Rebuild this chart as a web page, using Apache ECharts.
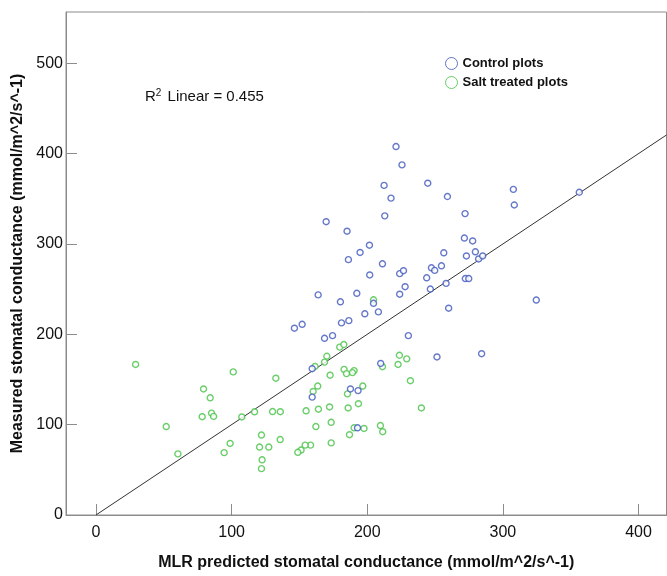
<!DOCTYPE html>
<html>
<head>
<meta charset="utf-8">
<script src="https://cdn.jsdelivr.net/npm/echarts@6/dist/echarts.min.js"></script>
<style>html,body{margin:0;padding:0;background:#fff}#c{width:667px;height:576px}</style>
</head>
<body>
<div id="c"></div>
<script>
// Control plots: [MLR predicted, measured]
var controlX = [221.2,225.6,212.4,244.6,217.5,259.1,212.9,272.1,169.7,185.1,271.6,277.7,201.6,194.7,256.4,279.7,186.1,273.1,282.1,285.1,211.2,201.8,223.9,226.7,247.3,249.7,254.7,243.8,272.3,274.8,307.7,308.4,356.3,163.8,192.3,180.2,204.6,227.9,223.9,246.5,258.1,260.0,198.2,208.2,146.3,152.0,181.0,186.4,168.5,174.4,230.3,251.4,284.3,209.9,159.4,187.6,193.2,159.4,324.6,192.8];
var controlY = [407.8,387.5,364.8,367.2,350.7,352.5,331.1,333.6,324.6,314.1,306.5,303.3,298.6,290.6,290.2,291.3,282.6,286.7,283.4,286.7,278.0,265.7,267.1,270.4,273.6,270.7,275.8,262.5,261.7,261.7,360.4,343.1,357.2,243.6,245.4,236.0,234.3,252.7,244.4,250.1,256.3,228.9,222.7,224.8,206.7,211.1,212.6,215.1,195.6,198.5,198.5,174.9,178.5,167.7,161.9,139.5,137.7,130.5,237.9,96.5];
// Salt treated plots
var saltX = [29.2,101.2,132.6,79.3,84.2,78.3,85.2,86.7,51.8,60.4,107.5,116.9,130.2,135.9,122.0,98.9,94.5,120.6,127.4,122.5,122.0,135.8,204.6,179.7,182.7,170.2,168.5,161.5,223.7,229.1,222.7,211.2,182.9,190.3,189.1,184.7,172.6,231.8,163.5,196.7,160.1,185.4,193.5,154.9,164.0,172.2,185.9,239.9,162.1,173.4,190.3,197.6,209.7,211.4,186.9,173.4,158.2,154.2,151.2,148.8];
var saltY = [166.6,158.4,151.4,139.5,129.7,108.8,112.8,109.1,97.9,67.6,108.5,114.2,114.5,114.3,88.5,79.2,69.0,75.2,75.2,61.1,51.3,83.5,238.2,185.8,188.7,175.7,169.2,164.4,176.8,172.8,166.6,164.1,161.2,159.8,157.6,156.5,154.7,148.6,142.7,142.7,136.7,134.1,123.2,115.3,117.1,119.6,118.5,118.5,97.9,102.6,96.5,95.8,99.0,92.2,88.9,79.8,77.3,77.3,71.9,69.4];
// Fit line (through origin): x and y values at its ends
var fitX = [0, 420.6];
var fitY = [0, 420.6];
var xTicks = [0, 100, 200, 300, 400];
var yTicks = [0, 100, 200, 300, 400, 500];
var seriesNames = ['Control plots', 'Salt treated plots'];

function pairs(xs, ys){ return xs.map(function(v,i){ return [v, ys[i]]; }); }

var blue = '#3f56bd', green = '#45c245';
var font = '"Liberation Sans", Arial, sans-serif';
var chart = echarts.init(document.getElementById('c'), null, {renderer:'canvas'});
chart.setOption({
  animation: false,
  backgroundColor: '#fff',
  grid: {left: 66, right: 0.5, top: 12, bottom: 51, show: true, borderColor: '#8c8c8c', borderWidth: 1},
  legend: {
    orient: 'vertical', left: 440, top: 52, itemWidth: 12, itemHeight: 12, itemGap: 6,
    data: seriesNames,
    itemStyle: {borderWidth: 1},
    textStyle: {fontFamily: font, fontSize: 13, fontWeight: 'bold', color: '#111'}
  },
  graphic: [{
    type: 'text', left: 145, top: 88,
    style: {
      text: 'R{s|2} Linear = 0.455',
      font: '15px ' + font, fill: '#111',
      rich: {s: {fontSize: 10, verticalAlign: 'top', padding: [0,2,7,0], fontFamily: font, fill:'#111'}}
    }
  }],
  xAxis: {
    type: 'value', min: -22.1, max: 420.6,
    name: 'MLR predicted stomatal conductance (mmol/m^2/s^-1)',
    nameLocation: 'middle', nameGap: 40,
    nameTextStyle: {fontFamily: font, fontSize: 16, fontWeight: 'bold', color: '#111'},
    axisLine: {onZero: false, lineStyle: {color: '#8c8c8c'}},
    axisTick: {inside: true, length: 11, lineStyle: {color: '#8c8c8c'}, customValues: xTicks},
    axisLabel: {fontFamily: font, fontSize: 16, color: '#111', margin: 10, customValues: xTicks},
    splitLine: {show: false}
  },
  yAxis: {
    type: 'value', min: 0, max: 556.7,
    name: 'Measured stomatal conductance (mmol/m^2/s^-1)',
    nameLocation: 'middle', nameGap: 38,
    nameTextStyle: {fontFamily: font, fontSize: 16, fontWeight: 'bold', color: '#111'},
    axisLine: {onZero: false, lineStyle: {color: '#8c8c8c'}},
    axisTick: {inside: true, length: 11, lineStyle: {color: '#8c8c8c'}, customValues: yTicks},
    axisLabel: {fontFamily: font, fontSize: 16, color: '#111', margin: 3, customValues: yTicks},
    splitLine: {show: false}
  },
  series: [
    {
      name: 'fit', type: 'line', data: pairs(fitX, fitY), showSymbol: false, symbol: 'none',
      lineStyle: {color: '#333', width: 1}, z: 1, silent: true
    },
    {
      name: seriesNames[0], type: 'scatter', data: pairs(controlX, controlY), symbol: 'circle', symbolSize: 6,
      itemStyle: {color: '#fff', borderColor: blue, borderWidth: 1.4}, z: 3
    },
    {
      name: seriesNames[1], type: 'scatter', data: pairs(saltX, saltY), symbol: 'circle', symbolSize: 6,
      itemStyle: {color: '#fff', borderColor: green, borderWidth: 1.4}, z: 2
    }
  ]
});
</script>
</body>
</html>
